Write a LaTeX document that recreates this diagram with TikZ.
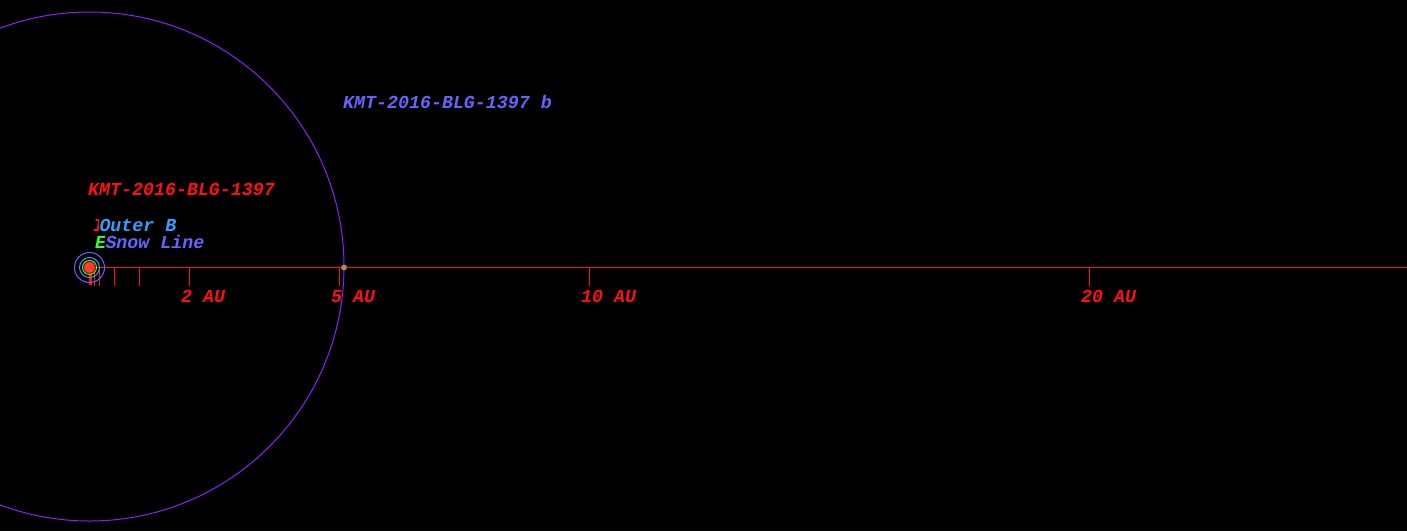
\documentclass[tikz,border=0pt]{standalone}
\usepackage{fontspec}
\setmonofont{Liberation Mono}
\definecolor{orbitc}{HTML}{8A1EFF}
\definecolor{planetc}{HTML}{6464FF}
\definecolor{outerc}{HTML}{33A0FF}
\definecolor{snowc}{HTML}{6464FF}
\definecolor{axisc}{HTML}{FF1010}
\definecolor{hzgreen}{HTML}{33FF33}
\definecolor{starred}{HTML}{FF4030}
\definecolor{pdot}{HTML}{A08868}
\tikzset{
  lbl/.style={inner sep=0pt, anchor=base west, font=\fontsize{18.3}{20}\selectfont\ttfamily\bfseries\itshape},
  masked/.style={lbl, fill=black, inner xsep=0.5pt, outer sep=0pt},
  tick/.style={axisc, line width=1pt},
  axislbl/.style={lbl, text=axisc},
}
\begin{document}
\begin{tikzpicture}[x=1pt,y=-1pt]
\fill[black] (0,0) rectangle (1407,531);
\useasboundingbox (0,0) rectangle (1407,531);
% orbit
\draw[orbitc, line width=1pt] (89.5,266.5) circle[radius=254.5];
% axis
\coordinate (axstart) at (89,267.5);
\coordinate (axend) at (1407,267.5);
\draw[axisc, line width=1pt] (axstart) -- (axend);
% ticks
\foreach \x in {94.5,99.5,114.5,139.5,189.5,339.5,589.5,1089.5}{
  \draw[tick] (\x,267.5) -- (\x,286);
}
\draw[axisc, line width=3pt] (90.5,267) -- (90.5,285);
% axis labels
\node[axislbl] (l2) at (181,302) {2 AU};
\node[axislbl] (l5) at (331,302) {5 AU};
\node[axislbl] (l10) at (581,302) {10 AU};
\node[axislbl] (l20) at (1081,302) {20 AU};
% star
\draw[snowc, line width=1pt] (89.5,267.5) circle[radius=15];
\draw[outerc, line width=1pt] (89.5,267.5) circle[radius=10];
\draw[hzgreen, line width=1pt] (89.5,267.5) circle[radius=7];
\node[circle, fill=starred, draw=red!80!black, line width=0.8pt, minimum size=11.5pt, inner sep=0pt] (star) at (89.5,267.5) {};
% planet
\node[circle, fill=pdot, minimum size=6pt, inner sep=0pt] (planet) at (344,267.5) {};
% labels
\node[lbl, text=planetc] (plab) at (343,108) {KMT-2016-BLG-1397 b};
\node[lbl, text=axisc] (slab) at (88,195) {KMT-2016-BLG-1397};
\node[lbl, text=axisc] (inner) at (93,231) {I};
\node[masked, text=outerc, anchor=base west] (outer) at (99,231) {Outer B};
\node[lbl, text=hzgreen] (elab) at (95,248) {E};
\node[masked, text=snowc] (snow) at (105,248) {Snow Line};
\end{tikzpicture}
\end{document}
